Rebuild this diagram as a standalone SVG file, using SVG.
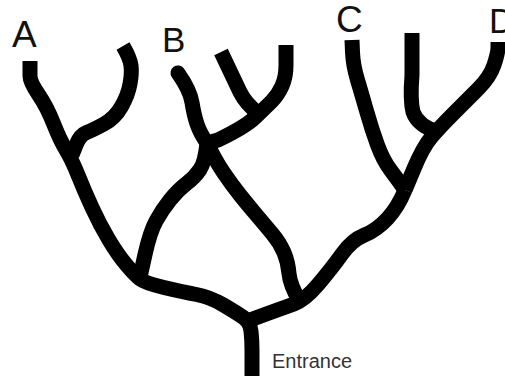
<svg xmlns="http://www.w3.org/2000/svg" width="505" height="376" viewBox="0 0 505 376">
<style>
.road{fill:none;stroke:#000;stroke-width:15;stroke-linejoin:round;stroke-linecap:butt}
.rnd{stroke-linecap:round}
.lbl{font-family:"Liberation Sans",Arial,sans-serif;fill:#111}
</style>
<rect width="505" height="376" fill="#fff"/>
<g id="roads">
<path class="road" d="M30,61 L30,76 Q30,82 38.5,94.5 Q47,107 53.5,123.5 Q60,140 66,150 Q72,160 78,175 Q84,190 92,207.5 Q100,225 109,240 Q118,255 126.5,265 Q135,275 140,279 Q145,283 164,287.5 Q183,292 196.5,294.5 Q210,297 223.5,305 Q237,313 243.5,317.5 Q250,322 251,331 Q252,340 252,350 L252,376"/>
<path class="road" d="M123,46 Q130,58 131,65.5 Q132,73 130,84 Q128,95 121.5,106.5 Q115,118 104,124 Q93,130 86.5,132.5 Q80,135 76,145 L72,155"/>
<path class="road" d="M250,320 L269,313 Q283,308 294,304 Q305,300 318.5,284 Q332,268 342,254 Q352,240 364.5,235 Q377,230 387.5,218.5 Q398,207 405,190"/>
<path class="road" d="M352,40 L352.5,52 Q353,65 357.5,80 Q362,95 367,112.5 Q372,130 377.5,145 Q383,160 390.5,170 Q398,180 405,190"/>
<path class="road" d="M405,190 L414,168.5 Q423,147 431.5,137 Q440,127 453.5,113.5 Q467,100 478.5,88.5 Q490,77 494,65 Q498,53 498,47.5 L498,42"/>
<path class="road" d="M412,33 L412,75 Q410,100 413,112 Q418,126 438,132"/>
<path class="road" d="M140,277 L145,254.5 Q150,232 156,221 Q162,210 170,200 Q178,190 186.5,183.5 Q195,177 200,169.5 Q205,162 207,143"/>
<path class="road rnd" d="M178,73 Q190,90 192,102.5 Q194,115 197,124 Q200,133 207,143"/>
<path class="road" d="M207,143 L218,140 Q245,127 255,117.5 Q265,108 271.5,101.5 Q278,95 282,86 Q286,77 286,65 L286,45"/>
<path class="road" d="M221,52 L240,92 Q246,104 258,113"/>
<path class="road" d="M207,143 Q215,160 223.5,172.5 Q232,185 240,195 Q248,205 256.5,215 Q265,225 272.5,234 Q280,243 284,252.5 Q288,262 289,273.5 Q290,285 300,302"/>
</g>
<g id="labels">
<text class="lbl" x="12" y="47" font-size="37">A</text>
<text class="lbl" x="162" y="52" font-size="35">B</text>
<text class="lbl" x="336" y="32" font-size="37">C</text>
<text class="lbl" x="489" y="33" font-size="35">D</text>
<text class="lbl" x="272" y="368" font-size="20" style="fill:#333">Entrance</text>
</g>
</svg>
